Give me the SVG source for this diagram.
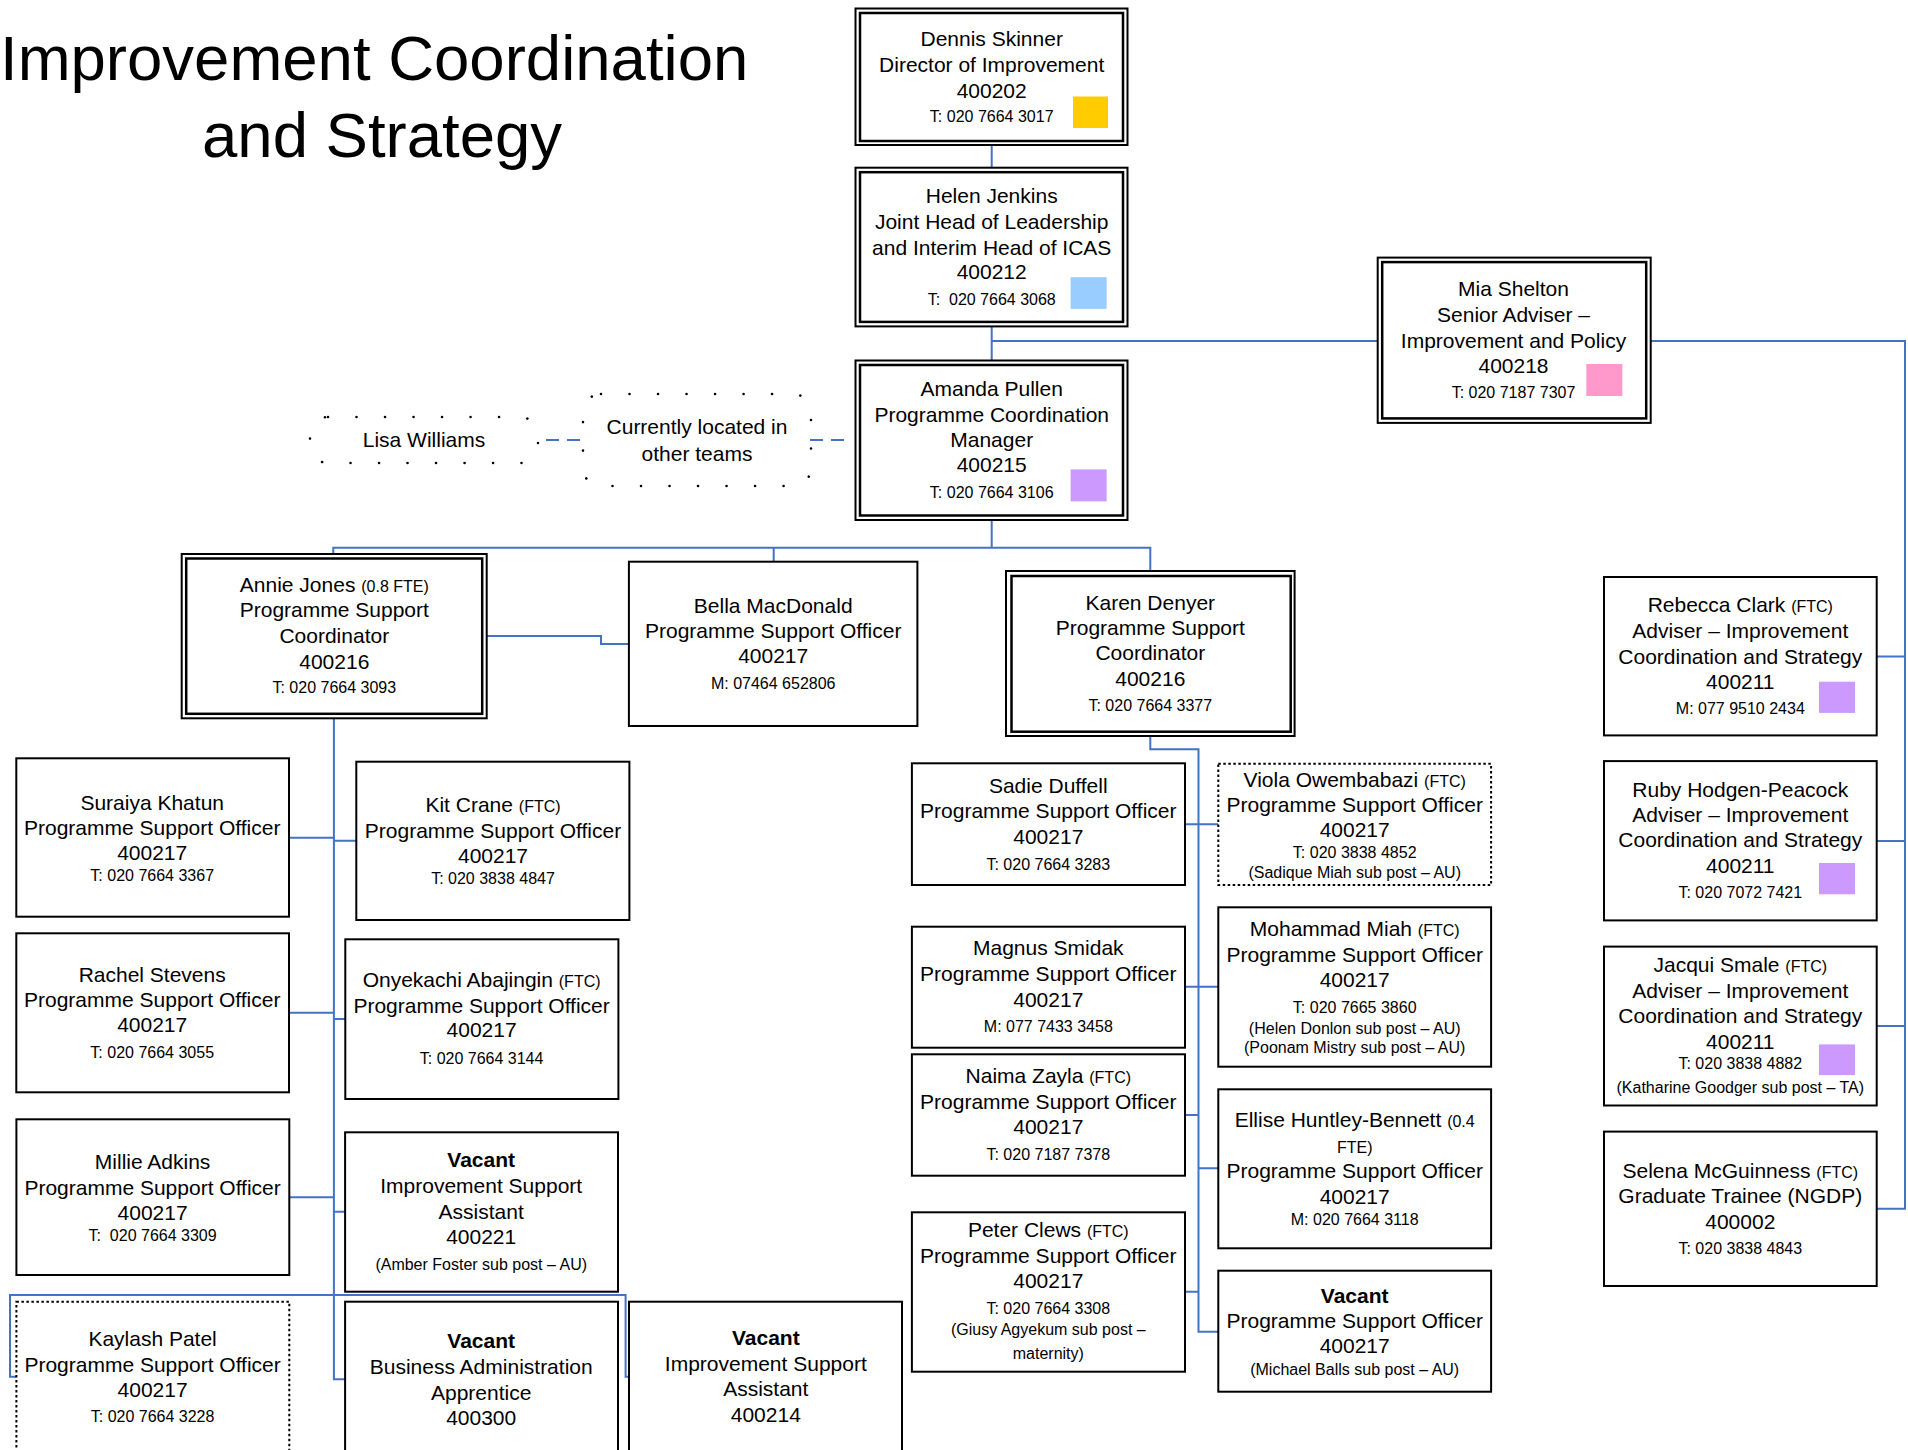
<svg xmlns="http://www.w3.org/2000/svg" width="1908" height="1450" viewBox="0 0 1908 1450">
<style>
text{font-family:"Liberation Sans",Arial,sans-serif;fill:#000;text-anchor:middle}
.n{font-size:21px}
.s{font-size:16px}
.v{font-size:21px;font-weight:bold}
.title{font-size:63.5px;text-anchor:start}
.bx{fill:#fff;stroke:#000;stroke-width:2}
.in{fill:none;stroke:#000;stroke-width:2.5}
.dot{fill:#fff;stroke:#000;stroke-width:2;stroke-dasharray:2.5 2.5}
.cloud{fill:none;stroke:#000;stroke-width:2.6;stroke-dasharray:0.01 28.5;stroke-linecap:round}
.c{fill:none;stroke:#4472C4;stroke-width:2}
.d{fill:none;stroke:#4472C4;stroke-width:2;stroke-dasharray:13 8}
</style>
<rect width="1908" height="1450" fill="#fff"/>
<g id="title">
<text class="title" x="0" y="80">Improvement Coordination</text>
<text class="title" x="202" y="157">and Strategy</text>
</g>
<g id="connectors">
<path class="c" d="M991.7,145 V167.7"/>
<path class="c" d="M991.7,326.4 V360.5 M991.7,340.9 H1377.7"/>
<path class="c" d="M1650.7,340.9 H1905 V1208.8 H1876.7 M1905,656.4 H1876.7 M1905,841 H1876.7 M1905,1026 H1876.7"/>
<path class="c" d="M991.7,520 V547.7 M333.3,554 V547.7 H1150.3 V571 M773.7,547.7 V561.7"/>
<path class="c" d="M486.7,636 H601 V644 H628.9"/>
<path class="c" d="M1150.3,736 V749.3 H1198.5 V1331.7 H1218.3 M1185,824.3 H1218.3 M1185,986.7 H1218.3 M1185,1115 H1198.5 M1198.5,1168.3 H1218.3 M1185,1291.7 H1198.5"/>
<path class="c" d="M333.9,718.3 V1379.3 H345.1 M289,837.7 H333.9 M333.9,840.7 H356.3 M289,1012.7 H333.9 M333.9,1019 H345.3 M289.3,1197.3 H333.9 M333.9,1211.7 H345.1"/>
<path class="c" d="M16.4,1376.7 H10 V1295 H625.6 V1376.7 H629"/>
<path class="d" d="M546,440 H584 M810,440 H849"/>
</g>
<g id="dennis">
<rect class="bx" x="855.5" y="8.5" width="272" height="136.5"/>
<rect class="in" x="860" y="13" width="263" height="128"/>
<text class="n" x="991.7" y="45.5">Dennis Skinner</text>
<text class="n" x="991.7" y="71.7">Director of Improvement</text>
<text class="n" x="991.7" y="97.5">400202</text>
<text class="s" x="991.7" y="121.7">T: 020 7664 3017</text>
<rect x="1073" y="96.5" width="35" height="31.5" fill="#FFCC00"/>
</g>
<g id="helen">
<rect class="bx" x="855.5" y="167.7" width="272" height="158.7"/>
<rect class="in" x="860" y="172.2" width="263" height="149.7"/>
<text class="n" x="991.7" y="202.9">Helen Jenkins</text>
<text class="n" x="991.7" y="228.7">Joint Head of Leadership</text>
<text class="n" x="991.7" y="254.5">and Interim Head of ICAS</text>
<text class="n" x="991.7" y="279.3">400212</text>
<text class="s" x="991.7" y="304.9" xml:space="preserve">T:  020 7664 3068</text>
<rect x="1070.6" y="277.2" width="36" height="31.7" fill="#99CCFF"/>
</g>
<g id="amanda">
<rect class="bx" x="855.5" y="360.5" width="272" height="159.5"/>
<rect class="in" x="860" y="365" width="263" height="150.5"/>
<text class="n" x="991.7" y="396.3">Amanda Pullen</text>
<text class="n" x="991.7" y="421.6">Programme Coordination</text>
<text class="n" x="991.7" y="447.3">Manager</text>
<text class="n" x="991.7" y="472.2">400215</text>
<text class="s" x="991.7" y="497.7">T: 020 7664 3106</text>
<rect x="1070.6" y="469.4" width="36" height="32" fill="#CC99FF"/>
</g>
<g id="mia">
<rect class="bx" x="1377.7" y="257.6" width="273" height="165.3"/>
<rect class="in" x="1382.2" y="262.1" width="264" height="156.3"/>
<text class="n" x="1513.5" y="295.9">Mia Shelton</text>
<text class="n" x="1513.5" y="321.7">Senior Adviser –</text>
<text class="n" x="1513.5" y="347.5">Improvement and Policy</text>
<text class="n" x="1513.5" y="373">400218</text>
<text class="s" x="1513.5" y="397.9">T: 020 7187 7307</text>
<rect x="1586.3" y="364" width="36" height="32" fill="#FF99CC"/>
</g>
<g id="lisa">
<rect class="cloud" x="310" y="417" width="228" height="46" rx="18"/>
<text class="n" x="424" y="447.3">Lisa Williams</text>
</g>
<g id="other-teams">
<rect class="cloud" x="583" y="394" width="228" height="92" rx="18"/>
<text class="n" x="697" y="434">Currently located in</text>
<text class="n" x="697" y="460.6">other teams</text>
</g>
<g id="annie">
<rect class="bx" x="181.7" y="554" width="305" height="164.3"/>
<rect class="in" x="186.2" y="558.5" width="296" height="155.3"/>
<text class="n" x="334.3" y="591.7">Annie Jones <tspan class="s">(0.8 FTE)</tspan></text>
<text class="n" x="334.3" y="617.3">Programme Support</text>
<text class="n" x="334.3" y="642.7">Coordinator</text>
<text class="n" x="334.3" y="669">400216</text>
<text class="s" x="334.3" y="693.3">T: 020 7664 3093</text>
</g>
<g id="bella">
<rect class="bx" x="628.9" y="561.7" width="288.5" height="164.3"/>
<text class="n" x="773.2" y="613.3">Bella MacDonald</text>
<text class="n" x="773.2" y="638.3">Programme Support Officer</text>
<text class="n" x="773.2" y="663.3">400217</text>
<text class="s" x="773.2" y="688.6">M: 07464 652806</text>
</g>
<g id="karen">
<rect class="bx" x="1006" y="571" width="288.6" height="165"/>
<rect class="in" x="1011.5" y="576" width="279.2" height="155.7"/>
<text class="n" x="1150.3" y="609.6">Karen Denyer</text>
<text class="n" x="1150.3" y="635">Programme Support</text>
<text class="n" x="1150.3" y="660">Coordinator</text>
<text class="n" x="1150.3" y="685.6">400216</text>
<text class="s" x="1150.3" y="711">T: 020 7664 3377</text>
</g>
<g id="sadie">
<rect class="bx" x="911.9" y="763.3" width="273.1" height="121.7"/>
<text class="n" x="1048.3" y="793">Sadie Duffell</text>
<text class="n" x="1048.3" y="818">Programme Support Officer</text>
<text class="n" x="1048.3" y="844">400217</text>
<text class="s" x="1048.3" y="869.6">T: 020 7664 3283</text>
</g>
<g id="viola">
<rect class="dot" x="1218.3" y="763.7" width="272.8" height="121.3"/>
<text class="n" x="1354.7" y="787.3">Viola Owembabazi <tspan class="s">(FTC)</tspan></text>
<text class="n" x="1354.7" y="812.3">Programme Support Officer</text>
<text class="n" x="1354.7" y="837.3">400217</text>
<text class="s" x="1354.7" y="858">T: 020 3838 4852</text>
<text class="s" x="1354.7" y="878">(Sadique Miah sub post – AU)</text>
</g>
<g id="magnus">
<rect class="bx" x="911.9" y="926.7" width="273.1" height="121"/>
<text class="n" x="1048.3" y="955">Magnus Smidak</text>
<text class="n" x="1048.3" y="980.6">Programme Support Officer</text>
<text class="n" x="1048.3" y="1006.6">400217</text>
<text class="s" x="1048.3" y="1032">M: 077 7433 3458</text>
</g>
<g id="mohammad">
<rect class="bx" x="1218.3" y="907.3" width="272.8" height="159.4"/>
<text class="n" x="1354.7" y="936.3">Mohammad Miah <tspan class="s">(FTC)</tspan></text>
<text class="n" x="1354.7" y="962.3">Programme Support Officer</text>
<text class="n" x="1354.7" y="986.6">400217</text>
<text class="s" x="1354.7" y="1012.6">T: 020 7665 3860</text>
<text class="s" x="1354.7" y="1033.6">(Helen Donlon sub post – AU)</text>
<text class="s" x="1354.7" y="1053">(Poonam Mistry sub post – AU)</text>
</g>
<g id="naima">
<rect class="bx" x="911.9" y="1054.3" width="273.1" height="121.4"/>
<text class="n" x="1048.3" y="1083.3">Naima Zayla <tspan class="s">(FTC)</tspan></text>
<text class="n" x="1048.3" y="1109">Programme Support Officer</text>
<text class="n" x="1048.3" y="1134">400217</text>
<text class="s" x="1048.3" y="1159.6">T: 020 7187 7378</text>
</g>
<g id="ellise">
<rect class="bx" x="1218.3" y="1089.3" width="272.8" height="159"/>
<text class="n" x="1354.7" y="1127.3">Ellise Huntley-Bennett <tspan class="s">(0.4</tspan></text>
<text class="s" x="1354.7" y="1152.6">FTE)</text>
<text class="n" x="1354.7" y="1178">Programme Support Officer</text>
<text class="n" x="1354.7" y="1204">400217</text>
<text class="s" x="1354.7" y="1225.3">M: 020 7664 3118</text>
</g>
<g id="peter">
<rect class="bx" x="911.9" y="1212.3" width="273.1" height="159.4"/>
<text class="n" x="1048.3" y="1237.3">Peter Clews <tspan class="s">(FTC)</tspan></text>
<text class="n" x="1048.3" y="1263">Programme Support Officer</text>
<text class="n" x="1048.3" y="1288.3">400217</text>
<text class="s" x="1048.3" y="1313.6">T: 020 7664 3308</text>
<text class="s" x="1048.3" y="1335.3">(Giusy Agyekum sub post –</text>
<text class="s" x="1048.3" y="1358.6">maternity)</text>
</g>
<g id="vacant-pso">
<rect class="bx" x="1218.3" y="1270.7" width="272.8" height="121"/>
<text class="v" x="1354.7" y="1303">Vacant</text>
<text class="n" x="1354.7" y="1328">Programme Support Officer</text>
<text class="n" x="1354.7" y="1353.3">400217</text>
<text class="s" x="1354.7" y="1375.3">(Michael Balls sub post – AU)</text>
</g>
<g id="rebecca">
<rect class="bx" x="1604" y="577" width="272.7" height="158.4"/>
<text class="n" x="1740.3" y="612.3">Rebecca Clark <tspan class="s">(FTC)</tspan></text>
<text class="n" x="1740.3" y="637.5">Adviser – Improvement</text>
<text class="n" x="1740.3" y="663.7">Coordination and Strategy</text>
<text class="n" x="1740.3" y="689">400211</text>
<text class="s" x="1740.3" y="713.6">M: 077 9510 2434</text>
<rect x="1819" y="681.7" width="36" height="31.2" fill="#CC99FF"/>
</g>
<g id="ruby">
<rect class="bx" x="1604" y="761.1" width="272.7" height="159.3"/>
<text class="n" x="1740.3" y="796.9">Ruby Hodgen-Peacock</text>
<text class="n" x="1740.3" y="822.1">Adviser – Improvement</text>
<text class="n" x="1740.3" y="847.3">Coordination and Strategy</text>
<text class="n" x="1740.3" y="872.6">400211</text>
<text class="s" x="1740.3" y="898.2">T: 020 7072 7421</text>
<rect x="1819" y="863" width="36" height="31.3" fill="#CC99FF"/>
</g>
<g id="jacqui">
<rect class="bx" x="1604" y="946.6" width="272.7" height="158.9"/>
<text class="n" x="1740.3" y="972.3">Jacqui Smale <tspan class="s">(FTC)</tspan></text>
<text class="n" x="1740.3" y="997.5">Adviser – Improvement</text>
<text class="n" x="1740.3" y="1023.3">Coordination and Strategy</text>
<text class="n" x="1740.3" y="1048.5">400211</text>
<text class="s" x="1740.3" y="1069">T: 020 3838 4882</text>
<text class="s" x="1740.3" y="1093.3">(Katharine Goodger sub post – TA)</text>
<rect x="1819" y="1044.4" width="36" height="30.7" fill="#CC99FF"/>
</g>
<g id="selena">
<rect class="bx" x="1604" y="1131.6" width="272.7" height="154.4"/>
<text class="n" x="1740.3" y="1177.9">Selena McGuinness <tspan class="s">(FTC)</tspan></text>
<text class="n" x="1740.3" y="1203.2">Graduate Trainee (NGDP)</text>
<text class="n" x="1740.3" y="1228.5">400002</text>
<text class="s" x="1740.3" y="1254">T: 020 3838 4843</text>
</g>
<g id="suraiya">
<rect class="bx" x="16.3" y="758.3" width="272.7" height="158.4"/>
<text class="n" x="152.2" y="809.6">Suraiya Khatun</text>
<text class="n" x="152.2" y="834.6">Programme Support Officer</text>
<text class="n" x="152.2" y="859.6">400217</text>
<text class="s" x="152.2" y="881.3">T: 020 7664 3367</text>
</g>
<g id="kit">
<rect class="bx" x="356.3" y="761.7" width="273.1" height="158.3"/>
<text class="n" x="493" y="812.3">Kit Crane <tspan class="s">(FTC)</tspan></text>
<text class="n" x="493" y="838">Programme Support Officer</text>
<text class="n" x="493" y="863">400217</text>
<text class="s" x="493" y="883.6">T: 020 3838 4847</text>
</g>
<g id="rachel">
<rect class="bx" x="16.3" y="933.3" width="272.7" height="159"/>
<text class="n" x="152.2" y="981.6">Rachel Stevens</text>
<text class="n" x="152.2" y="1006.6">Programme Support Officer</text>
<text class="n" x="152.2" y="1031.6">400217</text>
<text class="s" x="152.2" y="1058">T: 020 7664 3055</text>
</g>
<g id="onyekachi">
<rect class="bx" x="345.3" y="939.3" width="273.1" height="159.7"/>
<text class="n" x="481.6" y="987.3">Onyekachi Abajingin <tspan class="s">(FTC)</tspan></text>
<text class="n" x="481.6" y="1013.3">Programme Support Officer</text>
<text class="n" x="481.6" y="1037.3">400217</text>
<text class="s" x="481.6" y="1063.6">T: 020 7664 3144</text>
</g>
<g id="millie">
<rect class="bx" x="16.4" y="1119.3" width="272.9" height="155.7"/>
<text class="n" x="152.6" y="1169">Millie Adkins</text>
<text class="n" x="152.6" y="1194.6">Programme Support Officer</text>
<text class="n" x="152.6" y="1220">400217</text>
<text class="s" x="152.6" y="1241" xml:space="preserve">T:  020 7664 3309</text>
</g>
<g id="vacant-isa-400221">
<rect class="bx" x="345.1" y="1132.3" width="272.9" height="159.4"/>
<text class="v" x="481.2" y="1167.3">Vacant</text>
<text class="n" x="481.2" y="1193.3">Improvement Support</text>
<text class="n" x="481.2" y="1219">Assistant</text>
<text class="n" x="481.2" y="1244">400221</text>
<text class="s" x="481.2" y="1270.3">(Amber Foster sub post – AU)</text>
</g>
<g id="kaylash">
<rect class="dot" x="16.4" y="1301.7" width="272.9" height="170"/>
<text class="n" x="152.6" y="1345.6">Kaylash Patel</text>
<text class="n" x="152.6" y="1371.6">Programme Support Officer</text>
<text class="n" x="152.6" y="1396.6">400217</text>
<text class="s" x="152.6" y="1421.5">T: 020 7664 3228</text>
</g>
<g id="vacant-apprentice">
<rect class="bx" x="345.1" y="1301.7" width="272.9" height="170"/>
<text class="v" x="481.2" y="1348">Vacant</text>
<text class="n" x="481.2" y="1374">Business Administration</text>
<text class="n" x="481.2" y="1399.6">Apprentice</text>
<text class="n" x="481.2" y="1424.6">400300</text>
</g>
<g id="vacant-isa-400214">
<rect class="bx" x="629" y="1301.7" width="273" height="170"/>
<text class="v" x="765.8" y="1345">Vacant</text>
<text class="n" x="765.8" y="1370.6">Improvement Support</text>
<text class="n" x="765.8" y="1395.6">Assistant</text>
<text class="n" x="765.8" y="1422.3">400214</text>
</g>
</svg>
